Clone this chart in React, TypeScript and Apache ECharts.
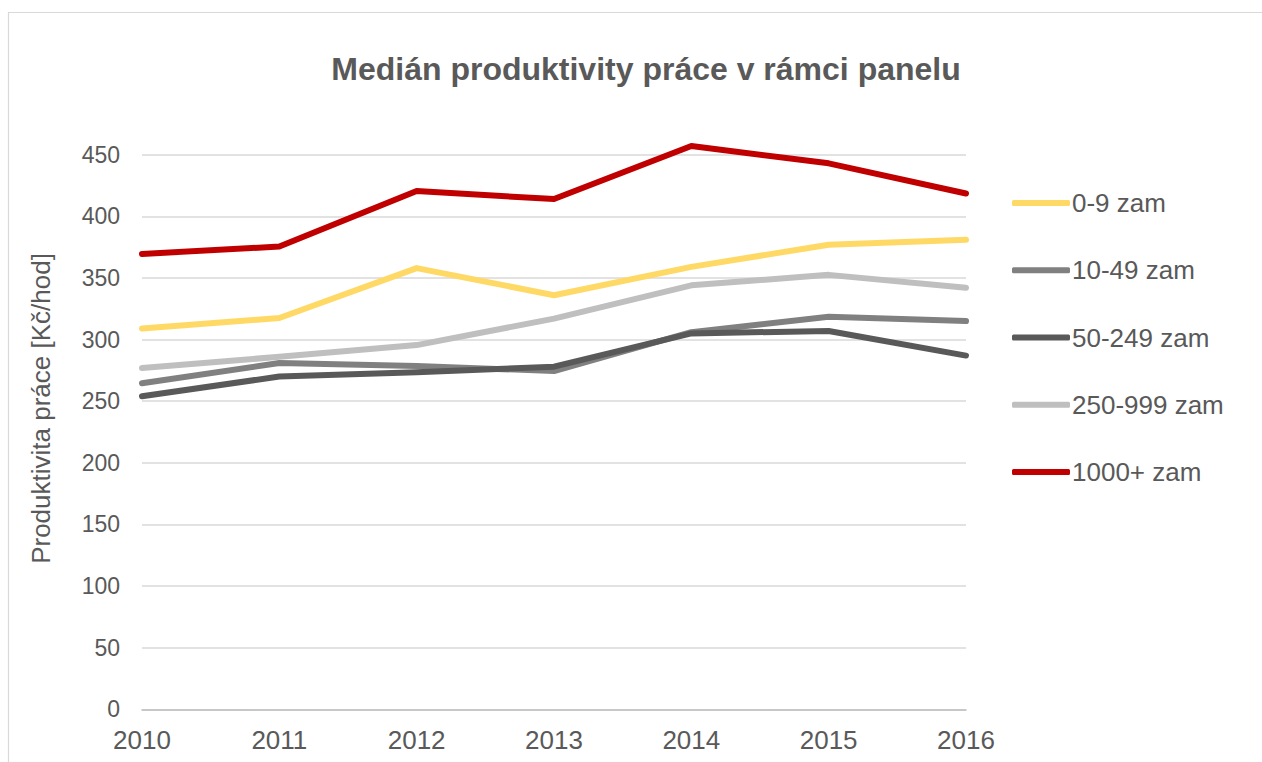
import React, { useEffect, useRef } from "react";
import * as echarts from "echarts";

const years = ["2010", "2011", "2012", "2013", "2014", "2015", "2016"];
const seriesNames = ["0-9 zam", "10-49 zam", "50-249 zam", "250-999 zam", "1000+ zam"];
const s0_9 = [309, 317.5, 358, 336, 359, 377, 381];
const s10_49 = [264.5, 281, 278.5, 274.5, 306, 318.5, 315];
const s50_249 = [254, 270, 273.5, 278, 305, 307, 287];
const s250_999 = [277, 286, 295.5, 317, 344, 352.5, 342];
const s1000 = [369.5, 375.5, 420.5, 414, 457, 443, 418.5];
const seriesColors = ["#FFD966", "#808080", "#595959", "#BFBFBF", "#C00000"];
const yTicks = { min: 0, max: 450, interval: 50 };

const FONT = "'Liberation Sans', Arial, sans-serif";
const TEXT = "#595959";

export default function App() {
  const ref = useRef<HTMLDivElement>(null);
  useEffect(() => {
    if (!ref.current) return;
    const chart = echarts.init(ref.current, null, { renderer: "svg" });
    const data = [s0_9, s10_49, s50_249, s250_999, s1000];
    chart.setOption({
      animation: false,
      backgroundColor: "#ffffff",
      textStyle: { fontFamily: FONT },
      grid: { left: 142, right: 296, top: 154.7, bottom: 52.7, containLabel: false },
      legend: {
        orient: "vertical",
        left: 1012,
        top: 190,
        padding: 0,
        itemWidth: 58,
        itemHeight: 6,
        itemGap: 41.25,
        icon: "roundRect",
        data: seriesNames,
        textStyle: { fontFamily: FONT, fontSize: 26, color: TEXT, lineHeight: 26, padding: [0, 0, 0, -3] },
      },
      xAxis: {
        type: "category",
        data: years,
        boundaryGap: false,
        axisLine: { show: true, lineStyle: { color: "#BFBFBF", width: 1.5 } },
        axisTick: { show: false },
        axisLabel: { color: TEXT, fontSize: 26, fontFamily: FONT, margin: 18 },
        splitLine: { show: false },
      },
      yAxis: {
        type: "value",
        min: yTicks.min,
        max: yTicks.max,
        interval: yTicks.interval,
        axisLine: { show: false },
        axisTick: { show: false },
        axisLabel: { color: TEXT, fontSize: 23, fontFamily: FONT, margin: 22 },
        splitLine: { lineStyle: { color: "#D9D9D9", width: 1.5 } },
      },
      graphic: [
        {
          type: "rect",
          shape: { x: 8.5, y: 12.5, width: 1400, height: 900 },
          style: { fill: "none", stroke: "#D9D9D9", lineWidth: 1.2 },
          silent: true,
        },
        {
          type: "text",
          x: 646,
          y: 69,
          style: {
            text: "Medián produktivity práce v rámci panelu",
            font: `bold 32px ${FONT}`,
            fill: TEXT,
            textAlign: "center",
            textVerticalAlign: "middle",
          },
        },
        {
          type: "text",
          x: 41,
          y: 408.5,
          rotation: Math.PI / 2,
          style: {
            text: "Produktivita práce [Kč/hod]",
            font: `26px ${FONT}`,
            fill: TEXT,
            textAlign: "center",
            textVerticalAlign: "middle",
          },
        },
      ],
      series: seriesNames.map((name, i) => ({
        name,
        type: "line",
        data: data[i],
        symbol: "none",
        clip: false,
        color: seriesColors[i],
        lineStyle: { color: seriesColors[i], width: 6, cap: "round", join: "round" },
      })),
    });
    return () => chart.dispose();
  }, []);
  return (
    <div
      ref={ref}
      style={{ position: "fixed", left: 0, top: 0, width: 1262, height: 762, background: "#fff" }}
    />
  );
}
